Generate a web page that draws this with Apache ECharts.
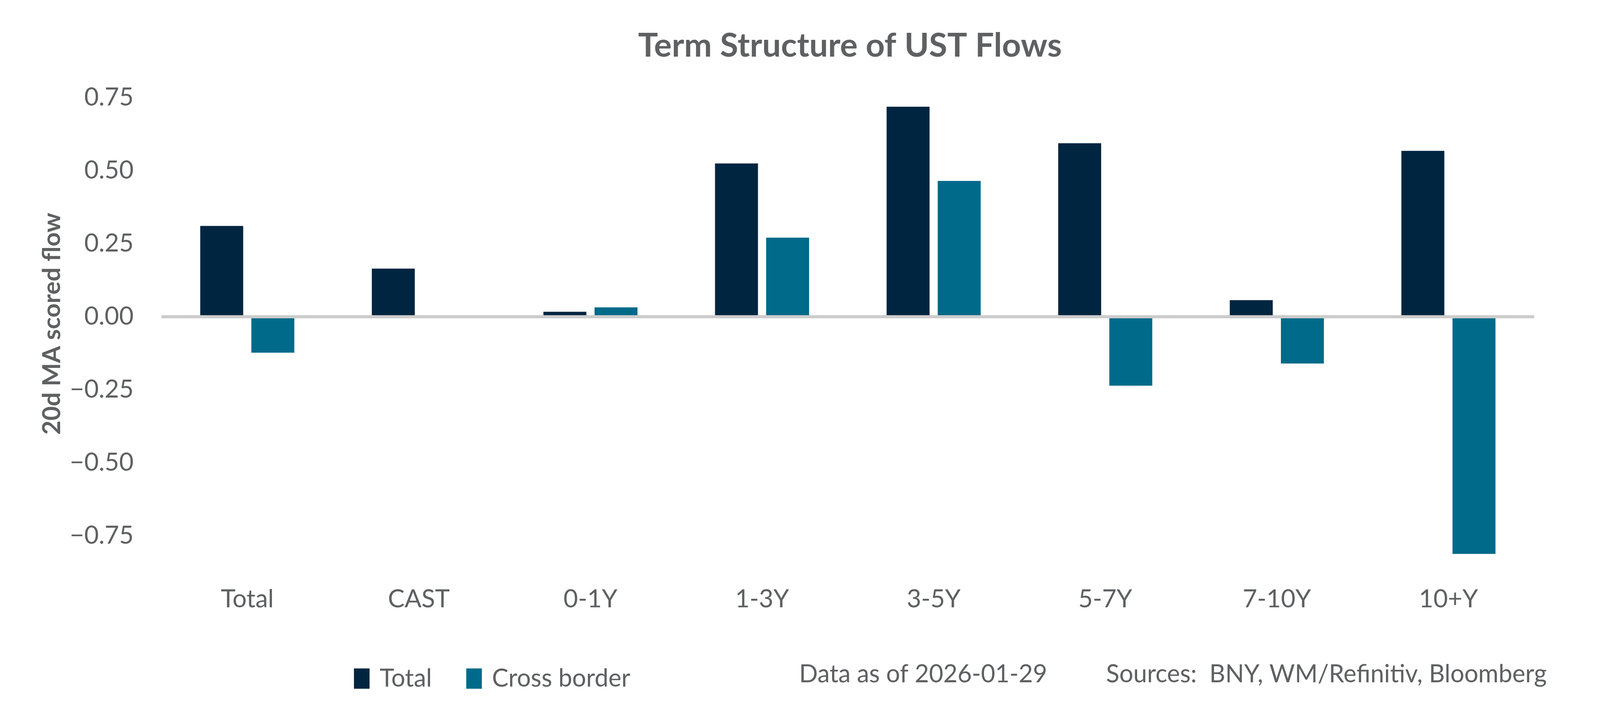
<!DOCTYPE html>
<html>
<head>
<meta charset="utf-8">
<script src="https://cdn.jsdelivr.net/npm/echarts@6/dist/echarts.min.js"></script>
<style>
  html, body { margin: 0; padding: 0; background: #ffffff; overflow: hidden; }
  #main { width: 100vw; height: 100vh; }
</style>
</head>
<body>
<div id="main"></div>
<script>
var categories = ['Total', 'CAST', '0-1Y', '1-3Y', '3-5Y', '5-7Y', '7-10Y', '10+Y'];
var totalFlow = [0.310, 0.164, 0.016, 0.524, 0.718, 0.593, 0.056, 0.567];
var crossBorderFlow = [-0.124, 0.003, 0.031, 0.270, 0.464, -0.237, -0.161, -0.813];
var yTicks = [-0.75, -0.5, -0.25, 0, 0.25, 0.5, 0.75];

var textGray = '#5f6062';
var font = 'Lato';

var myChart = echarts.init(document.getElementById('main'));

// layout was measured on a 5400x1800 picture, scale it to whatever window we get
var sx = myChart.getWidth() / 5400;
var sy = myChart.getHeight() / 1800;
var fs = Math.sqrt(sx * sy);
function px(v) { return v * sx; }
function py(v) { return v * sy; }
function fz(v) { return Math.round(v * fs); }

var legendText = { fontFamily: font, fontSize: fz(72), color: textGray, padding: [0, 0, 0, fz(24)] };

var option = {
  backgroundColor: '#ffffff',
  textStyle: { fontFamily: font },
  title: {
    text: 'Term Structure of UST Flows',
    left: px(2862),
    top: py(117) - fz(98) * 0.55,
    textAlign: 'center',
    textStyle: { fontFamily: font, fontSize: fz(98), fontWeight: 'bold', color: textGray }
  },
  legend: [
    {
      data: ['Total'],
      left: px(1188),
      top: py(1727) - fz(60) / 2,
      itemWidth: fz(46),
      itemHeight: fz(60),
      icon: 'rect',
      textStyle: legendText
    },
    {
      data: ['Cross border'],
      left: px(1567),
      top: py(1727) - fz(60) / 2,
      itemWidth: fz(46),
      itemHeight: fz(60),
      icon: 'rect',
      textStyle: legendText
    }
  ],
  grid: { left: px(545), right: px(222), top: py(212), bottom: py(354) },
  xAxis: {
    type: 'category',
    data: categories,
    axisLine: { show: false },
    axisTick: { show: false },
    axisLabel: {
      margin: py(1534) - py(1446) - fz(74) / 2,
      fontFamily: font,
      fontSize: fz(74),
      color: textGray
    }
  },
  yAxis: {
    type: 'value',
    min: -0.85,
    max: 0.8,
    name: '20d MA scored flow',
    nameLocation: 'middle',
    nameRotate: 90,
    nameGap: px(545 - 176) - fz(72) / 2,
    nameTextStyle: { fontFamily: font, fontSize: fz(72), fontWeight: 'bold', color: textGray },
    axisLine: { show: false },
    axisTick: { show: false },
    splitLine: { show: false },
    axisLabel: {
      customValues: yTicks,
      margin: px(94),
      fontFamily: font,
      fontSize: fz(74),
      color: textGray,
      formatter: function (v) {
        return (v < 0 ? '\u2212' : '') + Math.abs(v).toFixed(2);
      }
    }
  },
  graphic: [
    {
      type: 'text',
      left: px(2697),
      top: py(1727) - fz(72) / 2,
      style: { text: 'Data as of 2026-01-29', fontFamily: font, fontSize: fz(72), fill: textGray }
    },
    {
      type: 'text',
      left: px(3733),
      top: py(1727) - fz(72) / 2,
      style: { text: 'Sources:  BNY, WM/Refinitiv, Bloomberg', fontFamily: font, fontSize: fz(72), fill: textGray }
    }
  ],
  series: [
    {
      name: 'Total',
      type: 'bar',
      data: totalFlow,
      barWidth: px(145),
      barGap: '19%',
      itemStyle: { color: '#002540' }
    },
    {
      name: 'Cross border',
      type: 'bar',
      data: crossBorderFlow,
      barWidth: px(145),
      itemStyle: { color: '#006a8a' },
      markLine: {
        silent: true,
        symbol: 'none',
        label: { show: false },
        lineStyle: { color: '#cccccc', width: Math.max(2, py(8)), type: 'solid' },
        data: [{ yAxis: 0 }]
      }
    }
  ]
};

myChart.setOption(option);
</script>
</body>
</html>
